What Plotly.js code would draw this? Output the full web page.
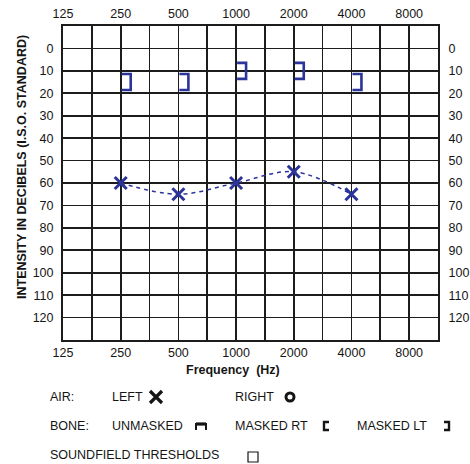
<!DOCTYPE html>
<html>
<head>
<meta charset="utf-8">
<script src="https://cdn.plot.ly/plotly-3.0.1.min.js"></script>
<style>html,body{margin:0;padding:0;background:#fff;}#chart{width:470px;height:464px;}</style>
</head>
<body>
<div id="chart"></div>
<script>
// ---- data ----
var octaveFreqs = [125, 250, 500, 1000, 2000, 4000, 8000];
var octaveLabels = ['125', '250', '500', '1000', '2000', '4000', '8000'];
var testFreqs = [250, 500, 1000, 2000, 4000];
var leftAirDb = [60, 65, 60, 55, 65];
var boneMaskedLtDb = [15, 15, 10, 10, 15];
var dbTicks = [0, 10, 20, 30, 40, 50, 60, 70, 80, 90, 100, 110, 120];
var dbMin = -10, dbMax = 130;

// ---- derived grid (half-octave steps) ----
var gridVals = [], gridText = [];
octaveFreqs.forEach(function (f, i) {
  gridVals.push(f); gridText.push(octaveLabels[i]);
  gridVals.push(f * Math.SQRT2); gridText.push('');
});
var xMax = octaveFreqs[octaveFreqs.length - 1] * Math.SQRT2;
var xRange = [Math.log10(octaveFreqs[0]) - 1e-4, Math.log10(xMax) + 1e-4];
var yGridVals = [], yGridText = [];
for (var v = dbMin; v <= dbMax; v += 10) {
  yGridVals.push(v);
  yGridText.push(dbTicks.indexOf(v) >= 0 ? String(v) : '');
}

var blue = '#2b3499';
var ink = '#151515';
var fontFam = 'Liberation Sans, Arial, sans-serif';

// plot area in pixels: left 63, right 438, top 26, bottom 340
var L = 63, R = 438, T = 26, B = 340;
function px(x) { return (x - L) / (R - L); }
function py(y) { return (B - y) / (B - T); }

var traces = [
  {
    x: testFreqs, y: leftAirDb, type: 'scatter', mode: 'lines+markers',
    line: {color: blue, width: 1.5, dash: '4px,4px', shape: 'spline', smoothing: 1},
    marker: {symbol: 'x-thin', size: 12, line: {color: blue, width: 3}, color: blue},
    hoverinfo: 'x+y', showlegend: false
  },
  {
    x: testFreqs, y: leftAirDb, type: 'scatter', mode: 'markers',
    xaxis: 'x2', yaxis: 'y2', marker: {opacity: 0}, hoverinfo: 'skip', showlegend: false
  }
];

var axisCommon = {
  showgrid: true, gridcolor: '#1c1c1c', gridwidth: 1.6,
  showline: true, linecolor: '#1c1c1c', linewidth: 2, mirror: true,
  ticks: '', zeroline: false, fixedrange: true,
  tickfont: {family: fontFam, size: 12.5, color: ink}
};

var shapes = [];
testFreqs.forEach(function (f, i) {
  shapes.push({
    type: 'path', xref: 'x', yref: 'y',
    xsizemode: 'pixel', ysizemode: 'pixel',
    xanchor: f, yanchor: boneMaskedLtDb[i],
    path: 'M1,8 H10 V-8 H1',
    line: {color: blue, width: 2.6}
  });
});

// legend symbols (black)
function sym(cx, cy, path, w) {
  shapes.push({
    type: 'path', xref: 'paper', yref: 'paper',
    xsizemode: 'pixel', ysizemode: 'pixel',
    xanchor: px(cx), yanchor: py(cy), path: path,
    line: {color: ink, width: w}
  });
}
sym(156, 397, 'M-6,-6 L6,6 M-6,6 L6,-6', 3.2);
shapes.push({
  type: 'circle', xref: 'paper', yref: 'paper',
  xsizemode: 'pixel', ysizemode: 'pixel',
  xanchor: px(290), yanchor: py(397), x0: -4, x1: 4, y0: -4, y1: 4,
  line: {color: ink, width: 3}
});
sym(201, 426, 'M-5,-4 V2 H5 V-4', 2);
sym(201, 426, 'M-5,2 H5', 3.2);
sym(326, 426, 'M3,-4 H-2 V4 H3', 2.4);
sym(447, 426, 'M-3,-4 H2 V4 H-3', 2.4);
shapes.push({
  type: 'rect', xref: 'paper', yref: 'paper',
  xsizemode: 'pixel', ysizemode: 'pixel',
  xanchor: px(253), yanchor: py(457), x0: -5, x1: 5, y0: -5, y1: 5,
  line: {color: ink, width: 1.2}
});

function label(text, x, y, opts) {
  var a = {
    text: text, xref: 'paper', yref: 'paper', x: px(x), y: py(y),
    xanchor: 'left', yanchor: 'middle', showarrow: false,
    font: {family: fontFam, size: 12.5, color: ink}
  };
  for (var k in (opts || {})) a[k] = opts[k];
  return a;
}

var annotations = [
  label('<b>Frequency  (Hz)</b>', 233, 370, {xanchor: 'center', font: {family: fontFam, size: 12.5, color: ink}}),
  label('<b>INTENSITY IN DECIBELS (I.S.O. STANDARD)</b>', 22, 167, {xanchor: 'center', textangle: -90, font: {family: fontFam, size: 12.5, color: ink}}),
  label('AIR:', 48, 397),
  label('LEFT', 110, 397),
  label('RIGHT', 233, 397),
  label('BONE:', 48, 426),
  label('UNMASKED', 110, 426),
  label('MASKED RT', 233, 426),
  label('MASKED LT', 355, 426),
  label('SOUNDFIELD THRESHOLDS', 48, 455)
];

var layout = {
  width: 470, height: 464,
  margin: {l: L, r: 470 - R, t: T, b: 464 - B, pad: 0},
  paper_bgcolor: '#ffffff', plot_bgcolor: '#ffffff',
  showlegend: false,
  font: {family: fontFam, color: ink},
  xaxis: Object.assign({}, axisCommon, {
    type: 'log', range: xRange, tickmode: 'array', tickvals: gridVals, ticktext: gridText,
    ticklabelstandoff: 0
  }),
  xaxis2: Object.assign({}, axisCommon, {
    type: 'log', range: xRange, tickmode: 'array', tickvals: gridVals, ticktext: gridText,
    overlaying: 'x', side: 'top', showgrid: false, anchor: 'y2', ticklabelstandoff: 1
  }),
  yaxis: Object.assign({}, axisCommon, {
    range: [dbMax, dbMin], tickmode: 'array', tickvals: yGridVals, ticktext: yGridText,
    ticklabelstandoff: 5
  }),
  yaxis2: Object.assign({}, axisCommon, {
    range: [dbMax, dbMin], tickmode: 'array', tickvals: yGridVals, ticktext: yGridText,
    overlaying: 'y', side: 'right', showgrid: false, anchor: 'x2', ticklabelstandoff: 6
  }),
  shapes: shapes,
  annotations: annotations
};

Plotly.newPlot('chart', traces, layout, {displayModeBar: false, staticPlot: true});
</script>
</body>
</html>
